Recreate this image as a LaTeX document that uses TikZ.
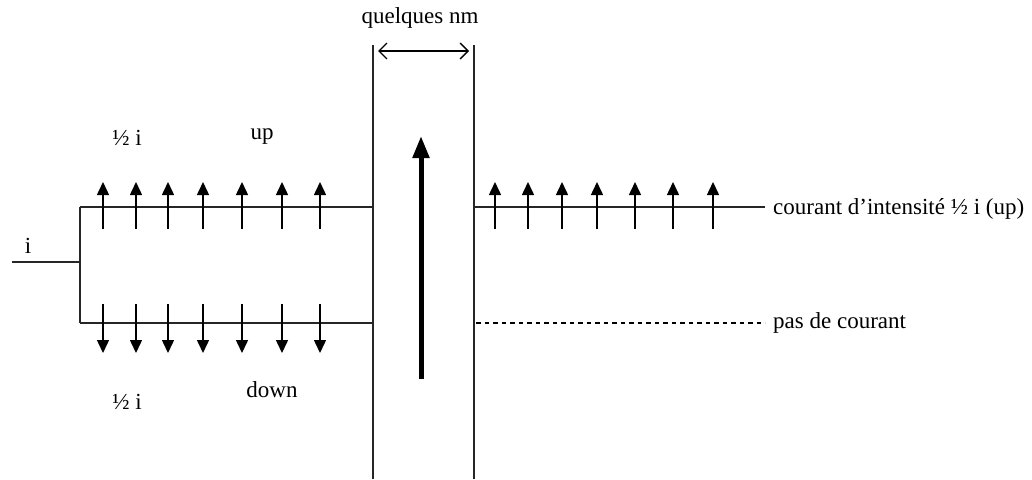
\documentclass[tikz,border=0pt]{standalone}
\usepackage{fontspec}
\setmainfont{Liberation Serif}
\usetikzlibrary{arrows.meta}
\begin{document}
\begin{tikzpicture}[x=1pt,y=-1pt,
  wire/.style={line width=1.4pt,draw=black!85},
  spinarrow/.style={line width=1.5pt,-{Triangle[length=13pt,width=12pt]}},
  bigarrow/.style={line width=5pt,-{Triangle[length=22pt,width=16pt]}},
  lbl/.style={font=\fontsize{23}{27}\selectfont,inner sep=0pt}]
\useasboundingbox (0,0) rectangle (1032,479);
% barrier walls
\coordinate (wlt) at (373,45); \coordinate (wlb) at (373,479);
\coordinate (wrt) at (474,45); \coordinate (wrb) at (474,479);
\draw[wire] (wlt) -- (wlb);
\draw[wire] (wrt) -- (wrb);
% width marker
\coordinate (da) at (378,51); \coordinate (db) at (469,51);
\draw[line width=1.4pt,{Straight Barb[length=8pt,width=16pt]}-{Straight Barb[length=8pt,width=16pt]}] (da) -- (db);
\node[lbl] (qnm) at (420,18) {quelques nm};
% input and branches
\coordinate (in0) at (12,262); \coordinate (in1) at (80,262);
\coordinate (bt) at (80,207); \coordinate (bb) at (80,323);
\coordinate (tu) at (373,207); \coordinate (tl) at (373,323);
\draw[wire] (in0) -- (in1);
\draw[wire] (bt) -- (bb);
\draw[wire] (bt) -- (tu);
\draw[wire] (bb) -- (tl);
\node[lbl] (li) at (28,246) {i};
\node[lbl] (hu) at (127,138) {½ i};
\node[lbl] (up) at (262,137) {up};
\node[lbl] (hd) at (127,402) {½ i};
\node[lbl] (dn) at (272,390) {down};
% spin arrows left
\foreach \x [count=\k] in {103,136,168,203,242,282,320}{
  \coordinate (ua\k) at (\x,229); \coordinate (ub\k) at (\x,182);
  \draw[spinarrow] (ua\k) -- (ub\k);
  \coordinate (da\k) at (\x,304); \coordinate (db\k) at (\x,353);
  \draw[spinarrow] (da\k) -- (db\k);
}
% big magnetisation arrow
\coordinate (ma) at (421,379); \coordinate (mb) at (421,136);
\draw[bigarrow] (ma) -- (mb);
% right side
\coordinate (ro) at (474,207); \coordinate (re) at (765,207);
\draw[wire] (ro) -- (re);
\foreach \x [count=\k] in {495,528,562,597,635,673,713}{
  \coordinate (ra\k) at (\x,229); \coordinate (rb\k) at (\x,182);
  \draw[spinarrow] (ra\k) -- (rb\k);
}
\node[lbl,anchor=west] (cur) at (773,209) {courant d’intensité ½ i (up)};
\coordinate (po) at (476,323); \coordinate (pe) at (765,323);
\draw[line width=1.4pt,dash pattern=on 4.5pt off 4pt] (po) -- (pe);
\node[lbl,anchor=west] (pas) at (773,323) {pas de courant};
\end{tikzpicture}
\end{document}
